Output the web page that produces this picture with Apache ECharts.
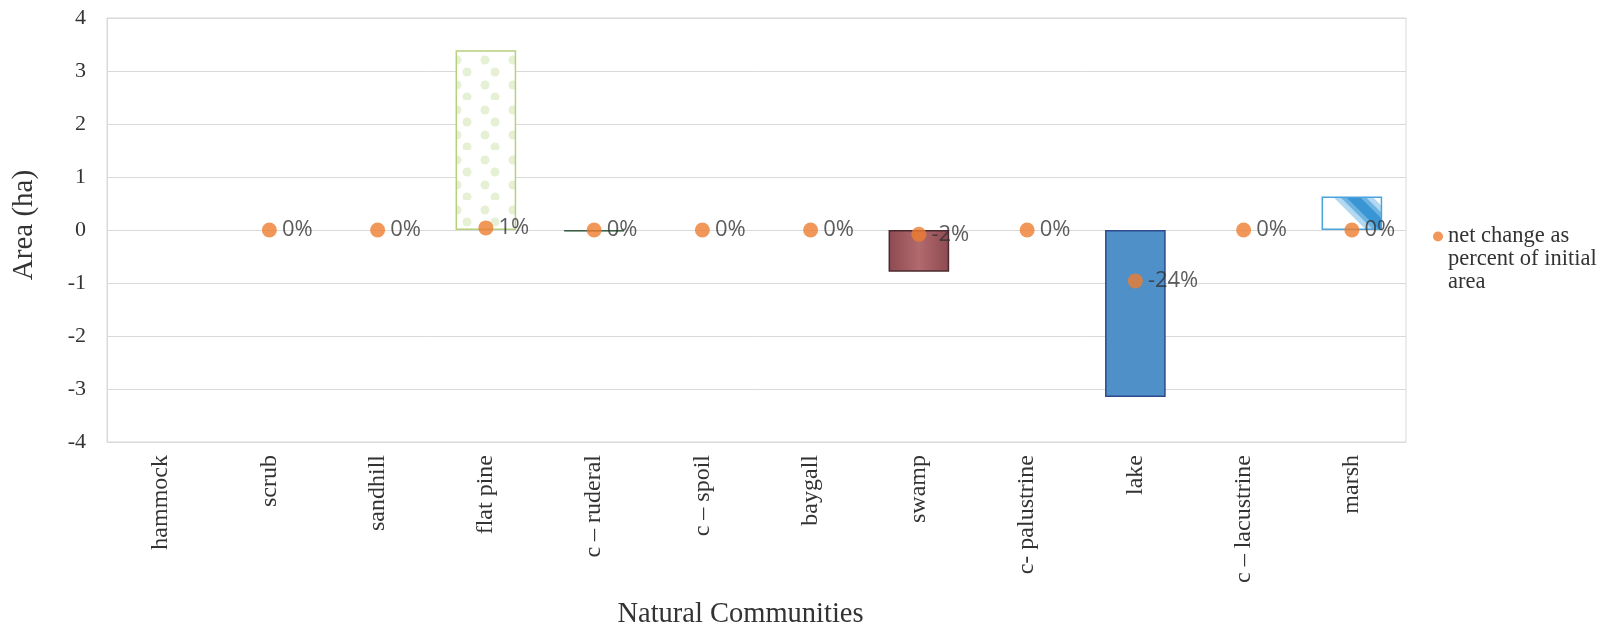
<!DOCTYPE html>
<html>
<head>
<meta charset="utf-8">
<script src="https://cdn.jsdelivr.net/npm/echarts@6/dist/echarts.min.js"></script>
<style>
  html, body { margin: 0; padding: 0; background: #fff; }
  #chart { width: 1624px; height: 631px; }
</style>
</head>
<body>
<div id="chart"></div>
<script>
// Natural community categories along the x axis
const categories = ['hammock', 'scrub', 'sandhill', 'flat pine', 'c \u2013 ruderal', 'c \u2013 spoil',
  'baygall', 'swamp', 'c- palustrine', 'lake', 'c \u2013 lacustrine', 'marsh'];

// Net change in area (ha) for each community
const areaChange = [0, 0, 0, 3.39, -0.03, 0, 0, -0.79, 0, -3.15, 0, 0.63];

// Net change as a fraction of initial area (null = not reported)
const pctChange = [null, 0, 0, 0.01, 0, 0, 0, -0.02, 0, -0.24, 0, 0];

const yTicks = { min: -4, max: 4, interval: 1 };
const seriesName = 'net change as\npercent of initial\narea';

// Fill patterns for the bars
function dotPattern() {
  const c = document.createElement('canvas');
  c.width = 28; c.height = 50;
  const g = c.getContext('2d');
  g.fillStyle = '#ffffff';
  g.fillRect(0, 0, 28, 50);
  g.fillStyle = 'rgba(200,222,160,0.45)';
  [[9, 10], [19, 22], [9, 35], [19, 47]].forEach(([x, y]) => {
    g.beginPath(); g.arc(x, y, 4.5, 0, Math.PI * 2); g.fill();
  });
  return { image: c, repeat: 'repeat' };
}
function stripePattern() {
  const s = 90, off = 76;
  const c = document.createElement('canvas');
  c.width = s; c.height = s;
  const g = c.getContext('2d');
  g.fillStyle = '#ffffff';
  g.fillRect(0, 0, s, s);
  const strokes = [['#b3d8f1', 28], ['#6db3e2', 18], ['#3a95d4', 10]];
  strokes.forEach(([col, w]) => {
    g.strokeStyle = col;
    g.lineWidth = w;
    for (let k = -2; k <= 2; k++) {
      g.beginPath();
      g.moveTo(k * s + off - s, -s);
      g.lineTo(k * s + off + 2 * s, 2 * s);
      g.stroke();
    }
  });
  return { image: c, repeat: 'repeat' };
}

const barStyles = {
  'flat pine': { color: dotPattern(), borderColor: '#b6d07c', borderWidth: 1.5 },
  'c \u2013 ruderal': { color: '#4d7a58', borderColor: '#3c5f45', borderWidth: 1 },
  'swamp': {
    color: { type: 'linear', x: 0, y: 0, x2: 1, y2: 0,
      colorStops: [{ offset: 0, color: '#8e4a52' }, { offset: 0.5, color: '#b16a6e' }, { offset: 1, color: '#8e4a52' }] },
    borderColor: '#4a2a2e', borderWidth: 1.5
  },
  'lake': { color: '#4f90c8', borderColor: '#2c4a8c', borderWidth: 1.5 },
  'marsh': { color: stripePattern(), borderColor: '#4aa3dc', borderWidth: 1.5 }
};

const barData = areaChange.map((v, i) => {
  const st = barStyles[categories[i]];
  return st ? { value: v, itemStyle: st } : { value: v, itemStyle: { color: 'transparent' } };
});

const serif = '"Liberation Serif", "Times New Roman", serif';
const textColor = '#333333';

const chart = echarts.init(document.getElementById('chart'), null, { renderer: 'canvas' });
chart.setOption({
  animation: false,
  backgroundColor: '#ffffff',
  grid: {
    left: 107, right: 218, top: 18, bottom: 189,
    outerBoundsMode: 'none',
    show: true, borderColor: '#d9d9d9', borderWidth: 1
  },
  legend: {
    data: [seriesName],
    left: 1428, top: 174,
    orient: 'vertical',
    icon: 'circle', itemWidth: 10, itemHeight: 10,
    // two leading blank lines put the marker level with the first text line
    formatter: name => '\n\n' + name,
    textStyle: { fontFamily: serif, fontSize: 22.5, color: textColor, lineHeight: 23 }
  },
  xAxis: {
    type: 'category',
    data: categories,
    axisLine: { show: false, onZero: false },
    axisTick: { show: false },
    axisLabel: { rotate: 90, margin: 13, fontFamily: serif, fontSize: 24, color: textColor, interval: 0 },
    name: 'Natural Communities',
    nameLocation: 'middle',
    nameGap: 158,
    nameTextStyle: { fontFamily: serif, fontSize: 28.5, color: textColor, padding: [0, 32, 0, 0] }
  },
  yAxis: [{
    type: 'value',
    min: yTicks.min, max: yTicks.max, interval: yTicks.interval,
    axisLine: { show: true, lineStyle: { color: '#d9d9d9' } },
    axisTick: { show: false },
    splitLine: { lineStyle: { color: '#d9d9d9', width: 1 } },
    axisLabel: { fontFamily: serif, fontSize: 22, color: textColor, margin: 21 },
    name: 'Area (ha)',
    nameLocation: 'middle',
    nameGap: 68,
    nameTextStyle: { fontFamily: serif, fontSize: 29, color: textColor, padding: [0, 0, 0, 10] }
  }, {
    type: 'value',
    min: -1, max: 1,
    show: false,
    splitLine: { show: false }
  }],
  series: [{
    name: 'area',
    type: 'bar',
    yAxisIndex: 0,
    barWidth: '56%',
    data: barData
  }, {
    name: seriesName,
    type: 'scatter',
    yAxisIndex: 1,
    symbol: 'circle',
    symbolSize: 15,
    itemStyle: { color: '#ed7d31' },
    data: pctChange,
    z: 5,
    label: {
      show: true, position: 'right', distance: 5,
      fontFamily: '"Open Sans", sans-serif', fontSize: 22, color: textColor,
      formatter: p => Math.round(p.value * 100) + '%'
    }
  }]
});
</script>
</body>
</html>
